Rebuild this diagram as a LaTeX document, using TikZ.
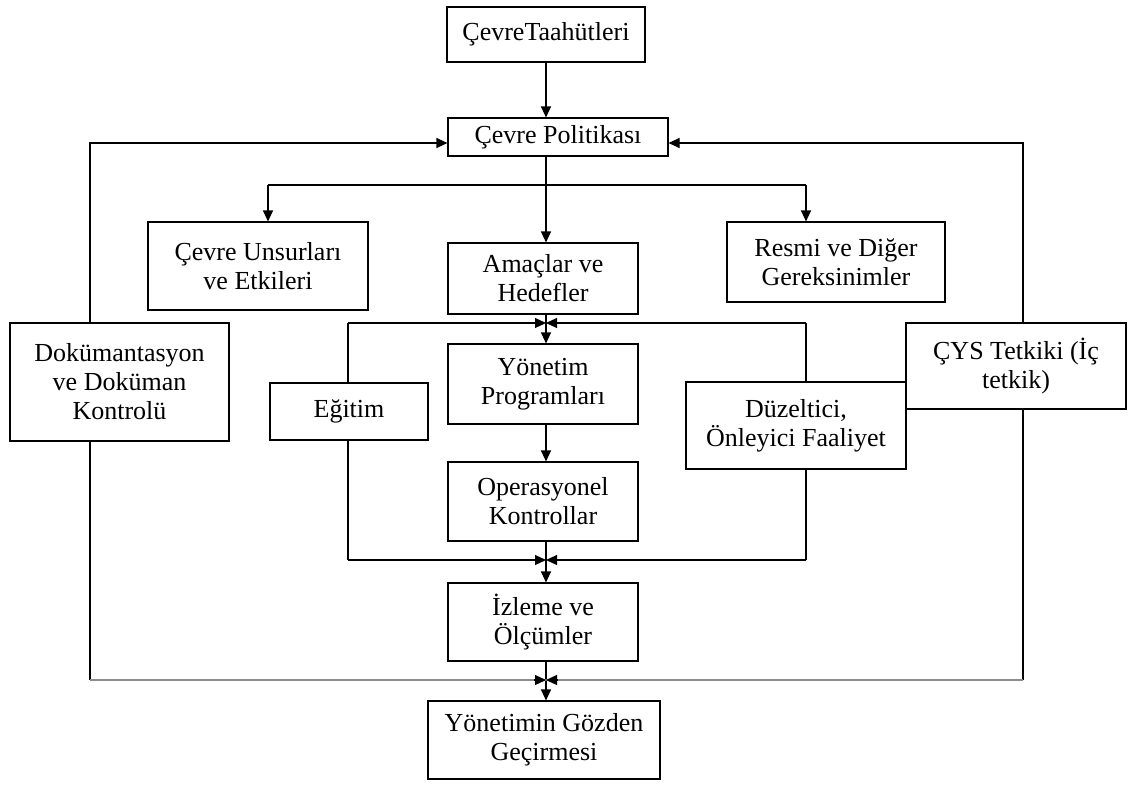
\documentclass[tikz,border=0pt]{standalone}
\usepackage{fontspec}
\setmainfont{Liberation Serif}
\usetikzlibrary{arrows.meta}
\begin{document}
\begin{tikzpicture}[x=1pt,y=-1pt,
  box/.style={draw,line width=1.1pt,rectangle,align=center,inner sep=2pt,
    font=\fontsize{26}{29}\selectfont},
  link/.style={line width=1.1pt},
  arr/.style={link,-{Triangle[length=11pt,width=10pt]}},
  outer/.style={link,draw=black!45}]
\useasboundingbox (0,0) rectangle (1128,785);

% boxes
\node[box,minimum width=198,minimum height=55] (taah) at (546,34.5) {ÇevreTaahütleri};
\node[box,minimum width=220,minimum height=38] (pol) at (558,137) {Çevre Politikası};
\node[box,minimum width=220,minimum height=88] (unsur) at (258,266) {Çevre Unsurları\\ve Etkileri};
\node[box,minimum width=190,minimum height=71] (amac) at (543,278.5) {Amaçlar ve\\Hedefler};
\node[box,minimum width=218,minimum height=80] (resmi) at (836,262) {Resmi ve Diğer\\Gereksinimler};
\node[box,minimum width=219,minimum height=118] (dok) at (119.5,382) {Dokümantasyon\\ve Doküman\\Kontrolü};
\node[box,minimum width=158,minimum height=57] (egitim) at (349,411.5) {Eğitim};
\node[box,minimum width=190,minimum height=80] (yon) at (543,384) {Yönetim\\Programları};
\node[box,minimum width=220,minimum height=87] (duz) at (796,425.5) {Düzeltici,\\Önleyici Faaliyet};
\node[box,minimum width=220,minimum height=86] (cys) at (1016,366) {ÇYS Tetkiki (İç\\tetkik)};
\node[box,minimum width=190,minimum height=79] (oper) at (543,501.5) {Operasyonel\\Kontrollar};
\node[box,minimum width=190,minimum height=78] (izl) at (543,622) {İzleme ve\\Ölçümler};
\node[box,minimum width=232,minimum height=78] (goz) at (544,740) {Yönetimin Gözden\\Geçirmesi};

% guide coordinates for the connector lanes
\coordinate (mid) at (546,0);
\coordinate (farL) at (90,0);
\coordinate (farR) at (1023,0);
\coordinate (inL) at (348,0);
\coordinate (inR) at (806,0);
\coordinate (brL) at (268,185);
\coordinate (brR) at (806,185);
\coordinate (brC) at (546,185);
\coordinate (topJ) at (546,323);
\coordinate (midJ) at (546,560);
\coordinate (botJ) at (546,680);
\coordinate (polY) at (0,143);

% main spine
\draw[arr] (taah.south -| mid) -- (pol.north -| mid);
\draw[link] (pol.south -| mid) -- (brC);
\draw[arr] (brC) -- (amac.north -| mid);
\draw[link] (brL) -- (brR);
\draw[arr] (brL) -- (unsur.north -| brL);
\draw[arr] (brR) -- (resmi.north -| brR);
\draw[arr] (amac.south -| mid) -- (yon.north -| mid);
\draw[arr] (yon.south -| mid) -- (oper.north -| mid);
\draw[arr] (oper.south -| mid) -- (izl.north -| mid);
\draw[arr] (izl.south -| mid) -- (goz.north -| mid);

% inner loop
\draw[link] (topJ -| inL) -- (egitim.north -| inL);
\draw[link] (topJ -| inR) -- (duz.north -| inR);
\draw[arr] (topJ -| inL) -- (topJ);
\draw[arr] (topJ -| inR) -- (topJ);
\draw[link] (egitim.south -| inL) -- (midJ -| inL);
\draw[link] (duz.south -| inR) -- (midJ -| inR);
\draw[arr] (midJ -| inL) -- (midJ);
\draw[arr] (midJ -| inR) -- (midJ);

% outer loop
\draw[arr] (dok.north -| farL) |- (pol.west |- polY);
\draw[arr] (cys.north -| farR) |- (pol.east |- polY);
\draw[link] (dok.south -| farL) -- (botJ -| farL);
\draw[link] (cys.south -| farR) -- (botJ -| farR);
\draw[outer] (botJ -| farL) -- (botJ -| farR);
\draw[arr] ([xshift=-12pt]botJ) -- (botJ);
\draw[arr] ([xshift=12pt]botJ) -- (botJ);
\end{tikzpicture}
\end{document}
